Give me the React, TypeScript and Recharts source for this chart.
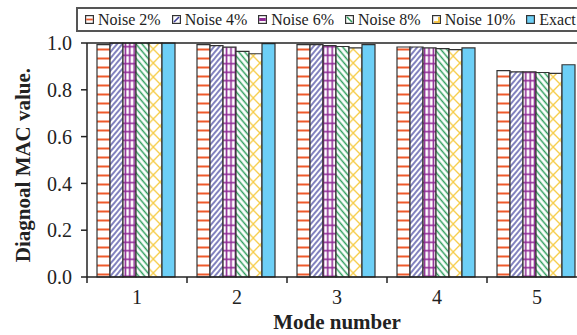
import React from "react";
import { BarChart, Bar, XAxis, YAxis, ReferenceLine } from "recharts";

const modes = ["1", "2", "3", "4", "5"];
const noise2 = [0.993, 0.993, 0.993, 0.983, 0.882];
const noise4 = [1.0, 0.989, 0.993, 0.983, 0.877];
const noise6 = [1.0, 0.982, 0.989, 0.979, 0.877];
const noise8 = [1.0, 0.964, 0.985, 0.976, 0.874];
const noise10 = [1.0, 0.954, 0.979, 0.972, 0.87];
const exact = [1.0, 0.997, 0.993, 0.979, 0.907];
const yTicks = [0, 0.2, 0.4, 0.6, 0.8, 1.0];

const seriesNames = ["Noise 2%", "Noise 4%", "Noise 6%", "Noise 8%", "Noise 10%", "Exact"];
const seriesKeys = ["n2", "n4", "n6", "n8", "n10", "ex"];
const fills = ["url(#p2)", "url(#p4)", "url(#p6)", "url(#p8)", "url(#p10)", "#6dcff6"];

const data = modes.map((m, i) => ({
  mode: m,
  n2: noise2[i],
  n4: noise4[i],
  n6: noise6[i],
  n8: noise8[i],
  n10: noise10[i],
  ex: exact[i],
}));

const FONT = '"Liberation Serif", "Times New Roman", serif';
const INK = "#222";

const Patterns = () => (
  <defs>
    <pattern id="p2" patternUnits="userSpaceOnUse" width="9" height="9">
      <rect width="9" height="9" fill="#fff" />
      <line x1="0" y1="4.5" x2="9" y2="4.5" stroke="#ee5a2c" strokeWidth="2" />
    </pattern>
    <pattern id="p4" patternUnits="userSpaceOnUse" width="4" height="4" patternTransform="rotate(40)">
      <rect width="4" height="4" fill="#fff" />
      <line x1="2" y1="0" x2="2" y2="4" stroke="#3f3f9c" strokeWidth="1.3" />
    </pattern>
    <pattern id="p6" patternUnits="userSpaceOnUse" width="4.4" height="8.5">
      <rect width="4.4" height="8.5" fill="#fff" />
      <line x1="2.2" y1="0" x2="2.2" y2="8.5" stroke="#8e2a94" strokeWidth="1.6" />
      <line x1="0" y1="4.25" x2="4.4" y2="4.25" stroke="#8e2a94" strokeWidth="1.6" />
    </pattern>
    <pattern id="p8" patternUnits="userSpaceOnUse" width="4.6" height="4.6" patternTransform="rotate(-40)">
      <rect width="4.6" height="4.6" fill="#fff" />
      <line x1="2.3" y1="0" x2="2.3" y2="4.6" stroke="#2e9e5c" strokeWidth="1.5" />
    </pattern>
    <pattern id="p10" patternUnits="userSpaceOnUse" width="13.33" height="14">
      <rect width="13.33" height="14" fill="#fff" />
      <line x1="0" y1="0" x2="13.33" y2="14" stroke="#f6cd4a" strokeWidth="1.3" />
      <line x1="13.33" y1="0" x2="0" y2="14" stroke="#f6cd4a" strokeWidth="1.3" />
    </pattern>
  </defs>
);

const XTick = (props: any) => {
  const { x, y, payload } = props;
  const half = payload && payload.offset ? payload.offset : 50;
  return (
    <g>
      <line x1={x - half} y1={y} x2={x - half} y2={y + 6} stroke={INK} strokeWidth={1.5} />
      <text x={x} y={y + 27} textAnchor="middle" fontFamily={FONT} fontSize={20} fill={INK}>
        {payload.value}
      </text>
    </g>
  );
};

const YTitle = (props: any) => {
  const vb = props.viewBox || {};
  const cy = (vb.y || 0) + (vb.height || 0) / 2 + 5;
  const cx = 30;
  return (
    <text
      x={cx}
      y={cy}
      transform={`rotate(-90, ${cx}, ${cy})`}
      textAnchor="middle"
      fontFamily={FONT}
      fontWeight="bold"
      fontSize={21}
      fill={INK}
    >
      Diagnoal MAC value.
    </text>
  );
};

const iconBox = (inner: React.ReactNode, bg = "#fff") => (
  <svg width="9" height="9" style={{ display: "block" }}>
    <rect x="0.6" y="0.6" width="7.8" height="7.8" fill={bg} stroke="#333" strokeWidth="1.2" />
    {inner}
  </svg>
);

const legendIcons = [
  iconBox(<line x1="1.2" y1="4.5" x2="7.8" y2="4.5" stroke="#ee5a2c" strokeWidth="1.8" />),
  iconBox(<line x1="2" y1="7" x2="7" y2="2" stroke="#3f3f9c" strokeWidth="1.6" />),
  iconBox(<rect x="1.2" y="3" width="6.6" height="3" fill="#8e2a94" />),
  iconBox(<line x1="2" y1="2" x2="7" y2="7" stroke="#2e9e5c" strokeWidth="1.6" />),
  iconBox(<path d="M2 7 L7 7 L7 2" fill="none" stroke="#f6b81a" strokeWidth="1.6" />),
  iconBox(null, "#6dcff6"),
];

export default function App() {
  return (
    <div
      style={{
        position: "fixed",
        left: 0,
        top: 0,
        width: 577,
        height: 335,
        overflow: "hidden",
        background: "#fff",
      }}
    >
      <div
        style={{
          position: "absolute",
          left: 76,
          top: 7,
          width: 560,
          height: 21,
          border: "2px solid #555",
          display: "flex",
          alignItems: "center",
          paddingLeft: 7,
          fontFamily: FONT,
          fontSize: 16,
          color: INK,
          whiteSpace: "nowrap",
          zIndex: 2,
          background: "#fff",
        }}
      >
        {seriesNames.map((n, i) => (
          <div key={n} style={{ display: "flex", alignItems: "center", marginRight: 11 }}>
            <span style={{ display: "inline-flex", marginRight: 4 }}>{legendIcons[i]}</span>
            <span>{n}</span>
          </div>
        ))}
      </div>
      <BarChart
        width={600}
        height={335}
        data={data}
        margin={{ top: 43, right: 13, left: 27, bottom: 0 }}
        barCategoryGap="10%"
        barGap={0}
      >
        <Patterns />
        <XAxis
          dataKey="mode"
          height={58}
          tickLine={false}
          tickSize={0}
          tickMargin={0}
          tick={<XTick />}
          stroke={INK}
          strokeWidth={1.5}
          interval={0}
          label={{
            value: "Mode number",
            position: "insideBottom",
            offset: 6,
            fontFamily: FONT,
            fontWeight: "bold",
            fontSize: 21,
            fill: INK,
          }}
        />
        <YAxis
          width={60}
          domain={[0, 1]}
          ticks={yTicks}
          tickFormatter={(v: number) => v.toFixed(1)}
          tickSize={6}
          tickMargin={9}
          tick={{ fontFamily: FONT, fontSize: 20, fill: INK }}
          stroke={INK}
          strokeWidth={1.5}
          tickLine={{ stroke: INK, strokeWidth: 1.5 }}
          label={<YTitle />}
        />
        {seriesKeys.map((k, i) => (
          <Bar
            key={k}
            dataKey={k}
            name={seriesNames[i]}
            fill={fills[i]}
            stroke="#333"
            strokeWidth={1.2}
            isAnimationActive={false}
          />
        ))}
        <ReferenceLine y={1} stroke={INK} strokeWidth={1.5} />
      </BarChart>
    </div>
  );
}
